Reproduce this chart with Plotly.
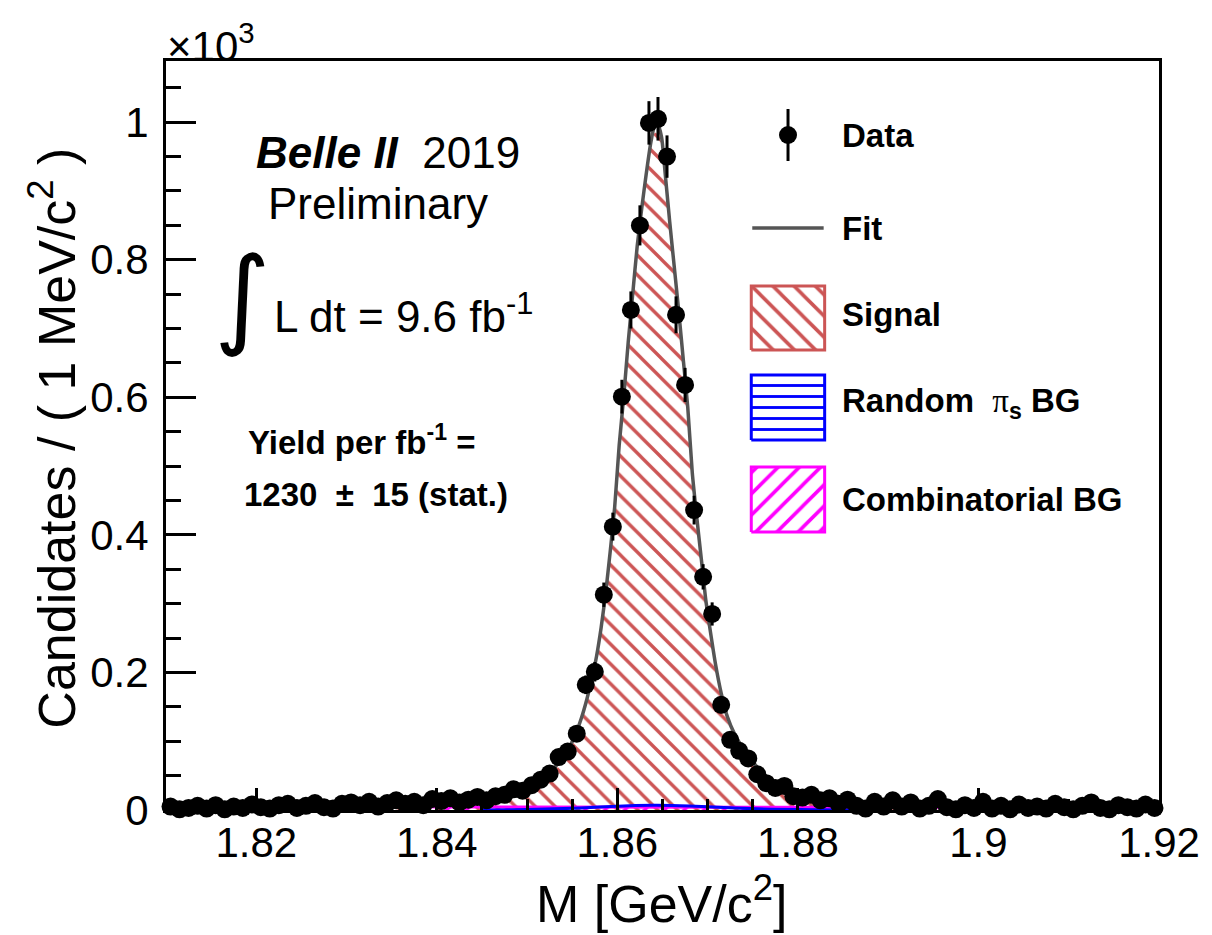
import math
import plotly.graph_objects as go

# ---------------- data ----------------
BIN_LO = 1.81          # GeV/c^2, lower edge of the first 1 MeV bin
BIN_WIDTH = 0.001

# candidates per 1 MeV bin (110 bins, 1.810 - 1.920)
counts = [5, 1, 3, 6, 2, 7, 1, 5, 3, 8,
          4, 2, 7, 9, 3, 6, 10, 4, 2, 9,
          11, 7, 12, 5, 10, 14, 9, 12, 7, 16,
          13, 17, 11, 15, 19, 14, 20, 22, 30, 28,
          36, 44, 53, 77, 85, 111, 182, 201, 313, 412,
          601, 727, 850, 999, 1005, 950, 720, 618, 436, 339,
          285, 153, 102, 86, 75, 52, 39, 32, 35, 20,
          18, 22, 14, 17, 9, 15, 6, 2, 12, 5,
          14, 5, 11, 2, 6, 16, 4, 1, 7, 3,
          12, 2, 6, 1, 8, 3, 5, 2, 9, 4,
          1, 6, 11, 3, 1, 7, 4, 2, 8, 3]

# total fit curve (x 10^3 candidates)
fit_x = [1.8100, 1.8150, 1.8200, 1.8250, 1.8300, 1.8350, 1.8400, 1.8430, 1.8460, 1.8480,
         1.8495, 1.8505, 1.8515, 1.8525, 1.8535, 1.8545, 1.8553, 1.8560, 1.8566, 1.8572,
         1.8577, 1.8582, 1.8587, 1.8592, 1.8597, 1.8602, 1.8607, 1.8612, 1.8617, 1.8622,
         1.8627, 1.8632, 1.8637, 1.8641, 1.8645, 1.8649, 1.8653, 1.8658, 1.8663, 1.8668,
         1.8673, 1.8678, 1.8683, 1.8688, 1.8693, 1.8698, 1.8703, 1.8709, 1.8715, 1.8722,
         1.8730, 1.8740, 1.8750, 1.8760, 1.8770, 1.8785, 1.8800, 1.8820, 1.8850, 1.8880,
         1.8920, 1.8970, 1.9030, 1.9100, 1.9200]
fit_total = [0.0055, 0.0060, 0.0067, 0.0075, 0.0086, 0.0100, 0.0120, 0.0140, 0.0175, 0.0218,
             0.0270, 0.0330, 0.0420, 0.0540, 0.0690, 0.0870, 0.1080, 0.1330, 0.1600, 0.1920,
             0.2240, 0.2650, 0.3150, 0.3750, 0.4400, 0.5300, 0.6000, 0.6800, 0.7500, 0.8200,
             0.8750, 0.9250, 0.9700, 0.9930, 0.9960, 0.9780, 0.9250, 0.8550, 0.7900, 0.7250,
             0.6550, 0.5850, 0.4900, 0.4250, 0.3650, 0.3050, 0.2600, 0.2100, 0.1700, 0.1350,
             0.1100, 0.0880, 0.0700, 0.0550, 0.0430, 0.0310, 0.0228, 0.0165, 0.0115, 0.0087,
             0.0068, 0.0056, 0.0049, 0.0044, 0.0040]
# signal component on the same grid
signal = [0.0008, 0.0014, 0.0022, 0.0031, 0.0043, 0.0058, 0.0079, 0.0100, 0.0134, 0.0176,
          0.0227, 0.0285, 0.0373, 0.0490, 0.0637, 0.0813, 0.1019, 0.1266, 0.1533, 0.1850,
          0.2167, 0.2574, 0.3072, 0.3669, 0.4317, 0.5215, 0.5913, 0.6712, 0.7411, 0.8110,
          0.8659, 0.9159, 0.9608, 0.9838, 0.9868, 0.9688, 0.9158, 0.8459, 0.7810, 0.7161,
          0.6462, 0.5763, 0.4815, 0.4167, 0.3569, 0.2972, 0.2525, 0.2028, 0.1631, 0.1285,
          0.1039, 0.0825, 0.0650, 0.0504, 0.0387, 0.0270, 0.0190, 0.0125, 0.0076, 0.0048,
          0.0030, 0.0019, 0.0012, 0.0008, 0.0005]

# random slow-pion background
rnd_x = [1.8450, 1.8500, 1.8540, 1.8570, 1.8600, 1.8620, 1.8640, 1.8660, 1.8680, 1.8700,
         1.8730, 1.8770, 1.8820, 1.8870]
rnd_y = [0.0000, 0.0008, 0.0020, 0.0036, 0.0055, 0.0064, 0.0068, 0.0066, 0.0058, 0.0046,
         0.0028, 0.0012, 0.0004, 0.0000]

# combinatorial background
comb_x = [1.81, 1.83, 1.85, 1.87, 1.89, 1.92]
comb_y = [0.0047, 0.0045, 0.0043, 0.0041, 0.0039, 0.0035]

x_tickvals = [1.82, 1.84, 1.86, 1.88, 1.90, 1.92]
x_ticktext = ["1.82", "1.84", "1.86", "1.88", "1.9", "1.92"]
y_tickvals = [0, 0.2, 0.4, 0.6, 0.8, 1.0]
y_ticktext = ["0", "0.2", "0.4", "0.6", "0.8", "1"]

legend_labels = ["Data", "Fit", "Signal",
                 "Random  <span style='font-family:Liberation Serif;font-weight:normal'>π</span><sub>s</sub> BG",
                 "Combinatorial BG"]

# ---------------- derived ----------------
mass = [round(BIN_LO + BIN_WIDTH * (i + 0.5), 4) for i in range(len(counts))]
y_data = [c / 1000.0 for c in counts]
y_err = [math.sqrt(c) / 1000.0 for c in counts]

RED = "#cc5555"
BLUE = "#0000ff"
MAGENTA = "#ff00ff"
GREY = "#555555"
FONT = "Liberation Sans, Arial, Helvetica, sans-serif"


def hatch(shape, color, size, solidity):
    return dict(shape=shape, fgcolor=color, bgcolor="rgba(255,255,255,0)",
                fgopacity=1, size=size, solidity=solidity, fillmode="replace")


fig = go.Figure()

# signal (hatched)
fig.add_trace(go.Scatter(
    x=fit_x, y=signal, mode="lines", line=dict(width=0, color=RED),
    fill="tozeroy", fillcolor="rgba(0,0,0,0)", fillpattern=hatch("\\", RED, 14, 0.24),
    showlegend=False, hoverinfo="skip"))
# combinatorial
fig.add_trace(go.Scatter(
    x=comb_x, y=comb_y, mode="lines", line=dict(width=3, color=MAGENTA),
    fill="tozeroy", fillcolor="rgba(0,0,0,0)", fillpattern=hatch("/", MAGENTA, 14, 0.24),
    showlegend=False, hoverinfo="skip"))
# random pi_s
fig.add_trace(go.Scatter(
    x=rnd_x, y=rnd_y, mode="lines", line=dict(width=3, color=BLUE, shape="spline"),
    fill="tozeroy", fillcolor="rgba(0,0,0,0)", fillpattern=hatch("-", BLUE, 11, 0.26),
    showlegend=False, hoverinfo="skip"))
# fit
fig.add_trace(go.Scatter(
    x=fit_x, y=fit_total, mode="lines",
    line=dict(width=3.5, color=GREY, shape="spline", smoothing=0.6),
    showlegend=False, hoverinfo="skip"))
# data
fig.add_trace(go.Scatter(
    x=mass, y=y_data, mode="markers",
    marker=dict(size=18, color="black"),
    error_y=dict(type="data", array=y_err, visible=True, thickness=3, width=0, color="black"),
    cliponaxis=False, showlegend=False))

# ---------------- custom legend (on an overlaid unit axis) ----------------
LX0, LX1 = 0.5894, 0.6633
fig.add_trace(go.Scatter(
    x=[0.6264], y=[0.9012], xaxis="x2", yaxis="y2", mode="markers",
    marker=dict(size=18, color="black"),
    error_y=dict(type="constant", value=0.0347, thickness=3, width=0, color="black"),
    showlegend=False, hoverinfo="skip"))
fig.add_trace(go.Scatter(
    x=[0.5904, 0.6623], y=[0.777, 0.777], xaxis="x2", yaxis="y2", mode="lines",
    line=dict(width=3.5, color=GREY), showlegend=False, hoverinfo="skip"))
boxes = [(0.6996, 0.6142, RED, "\\", 15, 0.24),
         (0.5808, 0.4940, BLUE, "-", 11, 0.26),
         (0.4579, 0.3712, MAGENTA, "/", 15, 0.24)]
for (yt, yb, col, shp, sz, sol) in boxes:
    fig.add_trace(go.Scatter(
        x=[LX0, LX1, LX1, LX0, LX0], y=[yb, yb, yt, yt, yb], xaxis="x2", yaxis="y2",
        mode="lines", line=dict(width=3, color=col), fill="toself", fillcolor="rgba(0,0,0,0)",
        fillpattern=hatch(shp, col, sz, sol),
        showlegend=False, hoverinfo="skip"))

leg_y = [0.8999, 0.777, 0.661, 0.5434, 0.4139]
annotations = []
for lab, yy in zip(legend_labels, leg_y):
    annotations.append(dict(text="<b>" + lab + "</b>", x=0.6783, y=yy,
                            xanchor="left", yanchor="middle",
                            font=dict(size=33, family=FONT, color="black")))

# ---------------- text ----------------
annotations += [
    dict(text="×10<sup>3</sup>", x=-0.001, y=0.985, xanchor="left", yanchor="bottom",
         font=dict(size=42)),
    dict(text="<b><i>Belle II</i></b>  2019", x=0.2238, y=0.8785, xanchor="center", yanchor="middle",
         font=dict(size=44)),
    dict(text="Preliminary", x=0.2138, y=0.8091, xanchor="center", yanchor="middle",
         font=dict(size=44)),
    dict(text="∫", x=0.077, y=0.685, xanchor="center", yanchor="middle",
         font=dict(size=108, family="DejaVu Sans")),
    dict(text="L dt = 9.6 fb<sup>-1</sup>", x=0.1069, y=0.6635, xanchor="left", yanchor="middle",
         font=dict(size=44)),
    dict(text="<b>Yield per fb<sup>-1</sup> =</b>", x=0.0809, y=0.494, xanchor="left", yanchor="middle",
         font=dict(size=33)),
    dict(text="<b>1230  ±  15 (stat.)</b>", x=0.0769, y=0.4206, xanchor="left", yanchor="middle",
         font=dict(size=33)),
    dict(text="M [GeV/c<sup>2</sup>]", x=0.4985, y=-0.12, xanchor="center", yanchor="middle",
         font=dict(size=52)),
    dict(text="Candidates / ( 1 MeV/c<sup>2</sup> )", x=-0.1139, y=0.497, xanchor="center",
         yanchor="middle", textangle=-90, font=dict(size=52)),
]
for a in annotations:
    a.setdefault("xref", "paper")
    a.setdefault("yref", "paper")
    a.setdefault("showarrow", False)

axis_common = dict(showline=True, linewidth=3, linecolor="black", mirror=True,
                   showgrid=False, zeroline=False, ticks="inside", tickwidth=3,
                   tickcolor="black", tickfont=dict(size=42, family=FONT, color="black"))

fig.update_layout(
    width=1212, height=935,
    margin=dict(l=166, r=45, t=61, b=125),
    paper_bgcolor="white", plot_bgcolor="white",
    font=dict(family=FONT, color="black"),
    showlegend=False,
    xaxis=dict(range=[1.81, 1.92], tickmode="array", tickvals=x_tickvals, ticktext=x_ticktext,
               ticklen=22, ticklabelstandoff=-6,
               minor=dict(ticks="inside", ticklen=11, tickwidth=3, tickcolor="black",
                          tickmode="linear", tick0=1.81, dtick=0.005),
               **axis_common),
    yaxis=dict(range=[0, 1.089], tickmode="array", tickvals=y_tickvals, ticktext=y_ticktext,
               ticklen=30, ticklabelstandoff=6,
               minor=dict(ticks="inside", ticklen=15, tickwidth=3, tickcolor="black",
                          tickmode="linear", tick0=0, dtick=0.05),
               **axis_common),
    xaxis2=dict(overlaying="x", range=[0, 1], visible=False, anchor="y2", fixedrange=True),
    yaxis2=dict(overlaying="y", range=[0, 1], visible=False, anchor="x2", fixedrange=True),
    annotations=annotations,
)

fig.write_html("out.html")
